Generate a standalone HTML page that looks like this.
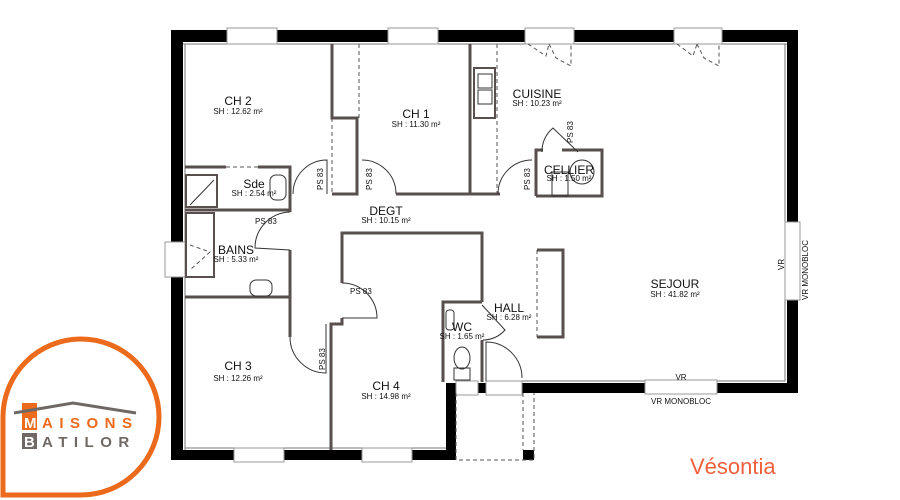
<!DOCTYPE html>
<html><head><meta charset="utf-8"><style>
html,body{margin:0;padding:0;background:#fff;}
svg{display:block;}
text{font-family:"Liberation Sans",Arial,sans-serif;fill:#111;}
</style></head><body>
<svg width="900" height="500" viewBox="0 0 900 500" xmlns="http://www.w3.org/2000/svg">
<g fill="#000">
<rect x="171" y="30" width="627" height="12"/>
<rect x="171" y="30" width="12" height="430"/>
<rect x="787" y="30" width="11" height="363"/>
<rect x="171" y="450" width="285" height="10"/>
<rect x="446" y="383" width="10" height="77"/>
<rect x="478" y="383" width="8" height="10"/>
<rect x="522" y="383" width="276" height="10"/>
<rect x="523" y="450" width="11" height="10"/>
</g>
<g stroke="#777" stroke-width="1" fill="none">
<line x1="183" y1="44" x2="787" y2="44"/>
<line x1="185" y1="44" x2="185" y2="450"/>
<line x1="785" y1="44" x2="785" y2="381"/>
<line x1="185" y1="448" x2="446" y2="448"/>
<line x1="520" y1="381" x2="785" y2="381"/>
</g>
<g fill="#fff" stroke="#999" stroke-width="1">
<rect x="227" y="28" width="50" height="16"/>
<rect x="388" y="28" width="50" height="16"/>
<rect x="525" y="28" width="49" height="16"/>
<rect x="674" y="28" width="48" height="16"/>
<rect x="785" y="222" width="15" height="78"/>
<rect x="165" y="242" width="20" height="35"/>
<rect x="234" y="448" width="50" height="14"/>
<rect x="362" y="448" width="50" height="14"/>
<rect x="645" y="380" width="72" height="14"/>
<rect x="456" y="381" width="22" height="14"/>
<rect x="486" y="381" width="36" height="14"/>
</g>
<g stroke="#555" stroke-width="1" fill="none" stroke-dasharray="4,3">
<path d="M528 44 L546 56 L549 44"/><path d="M549 44 L556 58 L571 66 L571 44"/>
<path d="M677 44 L693 56 L697 44"/><path d="M697 44 L704 58 L719 66 L719 44"/>
<path d="M456 393 L456 460 L534 460 L534 393"/><line x1="523" y1="393" x2="523" y2="450"/>
<line x1="332" y1="118" x2="332" y2="194"/><line x1="359" y1="44" x2="359" y2="118"/>
<line x1="497" y1="44" x2="497" y2="194"/><line x1="226" y1="167" x2="258" y2="167"/>
<line x1="537" y1="250" x2="537" y2="337"/>
<path d="M190 245 L210 252 L190 270"/>
</g>
<g stroke="#5a4f4f" stroke-width="3" fill="none">
<path d="M185 167 L226 167 M258 167 L290 167 L290 212 M185 210 L290 210"/>
<path d="M290 250 L290 337 M185 297 L290 297"/>
<path d="M332 44 L332 118 L357 118 L357 194 L332 194"/>
<path d="M396 194 L470 194 M470 44 L470 194 L500 194"/>
<path d="M536 196 L536 150 L543 150 M562 150 L602 150 L602 196 L536 196"/>
<path d="M342 283 L342 233 L482 233 L482 302 M342 318 L342 324 L331 324 L331 450"/>
<path d="M482 302 L443 302 L443 382 M482 340 L482 382"/>
<path d="M537 250 L563 250 L563 337 L537 337"/>
<path d="M186 175 L217 175 L217 207 L186 207 Z" stroke-width="2"/>
<path d="M186 213 L214 213 L214 277 L186 277 Z" stroke-width="2"/>
<path d="M474 68 L495 68 L495 118 L474 118 Z" stroke-width="2"/>
</g>
<g stroke="#333" stroke-width="1" fill="none">
<path d="M293 194 A34 34 0 0 1 327 160 L327 194"/>
<path d="M362 160 A34 34 0 0 1 396 194"/>
<path d="M498 194 A34 34 0 0 1 532 160"/>
<path d="M542 152 A30 30 0 0 1 553 128 L578 152"/>
<path d="M290 212 A36 36 0 0 0 255 248 L290 250"/>
<path d="M342 283 A35 35 0 0 1 377 318 L342 318"/>
<path d="M290 337 A36 36 0 0 0 326 373 L326 324"/>
<path d="M482 305 L505 330 A30 30 0 0 1 483 340"/>
<path d="M486 381 L486 342 A36 36 0 0 1 522 378"/>
<circle cx="582" cy="172" r="12"/>
<rect x="552" y="172" width="16" height="24"/>
<rect x="478" y="74" width="14" height="14"/><rect x="478" y="90" width="14" height="14"/>
<rect x="250" y="280" width="22" height="16" rx="6"/>
<rect x="270" y="175" width="16" height="25" rx="6"/>
<rect x="446" y="310" width="8" height="20" rx="3"/>
<ellipse cx="462" cy="358" rx="8" ry="11"/>
<rect x="454" y="368" width="16" height="12"/>
<line x1="190" y1="205" x2="214" y2="180"/>
</g>
<g text-anchor="middle">
<text x="238" y="105" font-size="12">CH 2</text><text x="238" y="114" font-size="8">SH : 12.62 m²</text>
<text x="416" y="118" font-size="12">CH 1</text><text x="416" y="127" font-size="8">SH : 11.30 m²</text>
<text x="537" y="98" font-size="12">CUISINE</text><text x="537" y="106" font-size="8">SH : 10.23 m²</text>
<text x="569" y="174" font-size="12">CELLIER</text><text x="569" y="181" font-size="8">SH : 1.50 m²</text>
<text x="254" y="188" font-size="12">Sde</text><text x="254" y="196" font-size="8">SH : 2.54 m²</text>
<text x="386" y="215" font-size="12">DEGT</text><text x="386" y="223" font-size="8">SH : 10.15 m²</text>
<text x="236" y="254" font-size="12">BAINS</text><text x="236" y="262" font-size="8">SH : 5.33 m²</text>
<text x="675" y="288" font-size="12">SEJOUR</text><text x="675" y="297" font-size="8">SH : 41.82 m²</text>
<text x="509" y="312" font-size="12">HALL</text><text x="509" y="320" font-size="8">SH : 6.28 m²</text>
<text x="462" y="331" font-size="12">WC</text><text x="462" y="339" font-size="8">SH : 1.65 m²</text>
<text x="238" y="370" font-size="12">CH 3</text><text x="238" y="381" font-size="8">SH : 12.26 m²</text>
<text x="386" y="390" font-size="12">CH 4</text><text x="386" y="399" font-size="8">SH : 14.98 m²</text>
<text x="681" y="380" font-size="8">VR</text><text x="681" y="404" font-size="8">VR MONOBLOC</text>
<text x="255" y="224" font-size="8" text-anchor="start">PS 83</text>
<text x="350" y="294" font-size="8" text-anchor="start">PS 83</text>
</g>
<g font-size="8">
<text transform="translate(323,190) rotate(-90)">PS 83</text>
<text transform="translate(372,190) rotate(-90)">PS 83</text>
<text transform="translate(530,190) rotate(-90)">PS 83</text>
<text transform="translate(573,143) rotate(-90)">PS 83</text>
<text transform="translate(325,370) rotate(-90)">PS 83</text>
<text transform="translate(784,270) rotate(-90)">VR</text>
<text transform="translate(808,300) rotate(-90)">VR MONOBLOC</text>
</g>
<path d="M3 495 L3 418 A78 78 0 1 1 81 495 Z" fill="none" stroke="#ec6a1b" stroke-width="5"/>
<rect x="22" y="403" width="15" height="27" fill="#ec6a1b"/>
<rect x="22" y="433" width="15" height="16" fill="#6f6864"/>
<path d="M14 413 L73 403 L136 413" stroke="#6f6864" stroke-width="3" fill="none"/>
<text x="24" y="428" font-size="15" font-weight="bold" style="fill:#fff">M</text>
<text x="24" y="447" font-size="15" font-weight="bold" style="fill:#fff">B</text>
<text x="42" y="428" font-size="15" font-weight="bold" letter-spacing="6.5" style="fill:#ec6a1b">AISONS</text>
<text x="42" y="447" font-size="15" font-weight="bold" letter-spacing="6.5" style="fill:#6f6864">ATILOR</text>
<text x="690" y="474" font-size="22" style="fill:#f0603c">Vésontia</text>
</svg>
</body></html>
